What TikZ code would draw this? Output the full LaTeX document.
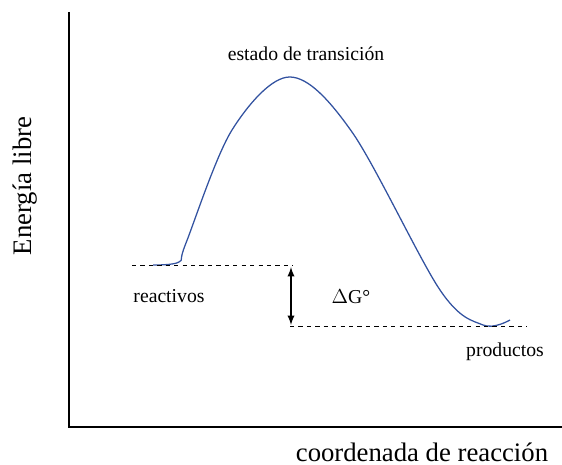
\documentclass[tikz,border=0pt]{standalone}
\usepackage{fontspec}
\setmainfont{Liberation Serif}
\definecolor{curva}{RGB}{50,82,160}

\begin{document}
\begin{tikzpicture}[x=0.025cm, y=-0.025cm,
    etiqueta/.style={font=\fontsize{14}{16}\selectfont},
    eje/.style={font=\fontsize{19}{22}\selectfont, inner sep=0pt}]
  \useasboundingbox (0,0) rectangle (562,465);
  % Ejes
  \coordinate (arriba) at (69,12);
  \coordinate (origen) at (69,427);
  \coordinate (derecha) at (562,427);
  \draw[line width=1.4pt] (arriba) -- (origen) -- (derecha);
  \node[eje] (xlabel) at (422,452) {coordenada de reacción};
  \node[eje, rotate=90] (ylabel) at (25,186) {Energía libre};
  % Curva
  \draw[curva, line width=0.9pt, smooth, tension=0.55] plot coordinates {
    (153,265)   % reactivos
    (179,262)
    (186,243)
    (232,130)
    (290,77)    % estado de transicion
    (352,132)
    (440,290)
    (483,325)   % productos
    (510,320)
  };
  % Niveles
  \coordinate (r1) at (132,265);
  \coordinate (r2) at (293,265);
  \coordinate (p1) at (290,326);
  \coordinate (p2) at (527,326);
  \draw[dashed, line width=0.5pt] (r1) -- (r2);
  \draw[dashed, line width=0.5pt] (p1) -- (p2);
  \coordinate (a1) at (291,267);
  \coordinate (a2) at (291,325);
  \draw[<->, >=latex, line width=1.3pt] (a1) -- (a2);
  % Etiquetas
  \node[etiqueta] (ts) at (306,54) {estado de transición};
  \node[etiqueta] (reac) at (169,296) {reactivos};
  \node[etiqueta] (dg) at (351,297) {$\Delta$G°};
  \node[etiqueta] (prod) at (505,352) {productos};
\end{tikzpicture}
\end{document}
